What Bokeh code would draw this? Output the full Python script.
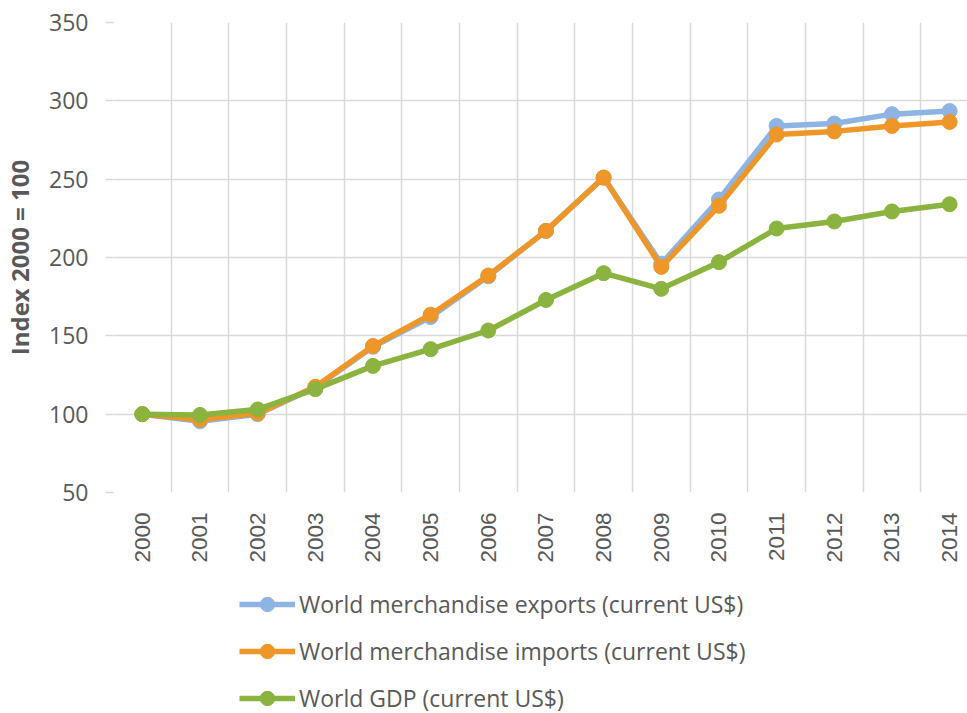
from math import pi
from bokeh.plotting import figure
from bokeh.layouts import column
from bokeh.models import Range1d, FixedTicker, Legend, LegendItem
from bokeh.embed import file_html
from bokeh.resources import INLINE

years = list(range(2000, 2015))
exports = [100, 95.5, 100, 117, 143, 162, 188, 217, 251, 196, 237, 284, 285.5, 291.5, 293.5]
imports = [100, 96.5, 100.5, 117.5, 143.5, 163.5, 188.5, 217, 251, 194, 233, 278.5, 280.5, 284, 286.5]
gdp = [100, 99.5, 103, 116, 130.8, 141.5, 153.4, 172.9, 190, 180, 197, 218.5, 223, 229.4, 234]

names = ["World merchandise exports (current US$)",
         "World merchandise imports (current US$)",
         "World GDP (current US$)"]
colors = ["#8EB4E3", "#EE9628", "#8AB33F"]
y_ticks = [50, 100, 150, 200, 250, 300, 350]

GRAY = "#D9D9D9"
TXT = "#595959"
LW = 5.5
MS = 15

p = figure(width=967, height=570, output_backend="svg", toolbar_location=None,
           x_range=Range1d(1999.5, 2014.31), y_range=Range1d(50, 350),
           min_border_left=111, min_border_right=0, min_border_top=22,
           min_border_bottom=78)
p.outline_line_color = None

for ys, c in zip([exports, imports, gdp], colors):
    p.line(years, ys, line_color=c, line_width=LW)
    p.scatter(years, ys, size=MS, fill_color=c, line_color=c)

# axes
p.xaxis.ticker = FixedTicker(ticks=years)
p.xaxis.major_label_orientation = pi / 2
p.xaxis.axis_line_color = None
p.xaxis.major_tick_line_color = None
p.xaxis.major_tick_out = 0
p.xaxis.major_tick_in = 0
p.xaxis.minor_tick_line_color = None
p.xaxis.major_label_standoff = 20
p.xaxis.major_label_text_font = "Liberation Sans"
p.xaxis.major_label_text_font_size = "22.5px"
p.xaxis.major_label_text_color = TXT

p.yaxis.ticker = FixedTicker(ticks=y_ticks)
p.yaxis.axis_line_color = None
p.yaxis.major_tick_line_color = GRAY
p.yaxis.major_tick_line_width = 1.5
p.yaxis.major_tick_out = 8
p.yaxis.major_tick_in = 0
p.yaxis.minor_tick_line_color = None
p.yaxis.major_label_standoff = 17
p.yaxis.major_label_text_font = "Open Sans"
p.yaxis.major_label_text_font_size = "23px"
p.yaxis.major_label_text_color = TXT
p.yaxis.axis_label = "Index 2000 = 100"
p.yaxis.axis_label_text_font = "Open Sans"
p.yaxis.axis_label_text_font_style = "bold"
p.yaxis.axis_label_text_font_size = "24px"
p.yaxis.axis_label_text_color = TXT
p.yaxis.axis_label_standoff = 10

p.xgrid.ticker = FixedTicker(ticks=[y - 0.5 for y in years] + [2014.5])
p.xgrid.grid_line_color = GRAY
p.xgrid.grid_line_width = 1.5
p.ygrid.grid_line_color = GRAY
p.ygrid.grid_line_width = 1.5

# legend strip below the chart (its renderers sit outside the visible range)
lg = figure(width=967, height=143, output_backend="svg", toolbar_location=None,
            x_axis_type=None, y_axis_type=None,
            x_range=Range1d(0, 1), y_range=Range1d(0, 1),
            min_border=0)
lg.outline_line_color = None
lg.xgrid.visible = False
lg.ygrid.visible = False

items = []
for ys, c, n in zip([exports, imports, gdp], colors, names):
    lr = lg.line(years, ys, line_color=c, line_width=LW)
    sr = lg.scatter(years, ys, size=MS, fill_color=c, line_color=c)
    items.append(LegendItem(label=n, renderers=[lr, sr]))

legend = Legend(items=items, location=(126, -3), orientation="vertical",
                glyph_width=56, glyph_height=36, label_height=36, spacing=11,
                label_standoff=4, padding=0, margin=0,
                border_line_color=None, background_fill_alpha=0,
                label_text_font="Open Sans", label_text_font_size="23px",
                label_text_color=TXT)
lg.add_layout(legend, "center")

layout = column(p, lg, spacing=0)
open("out.html", "w").write(file_html(layout, INLINE))
